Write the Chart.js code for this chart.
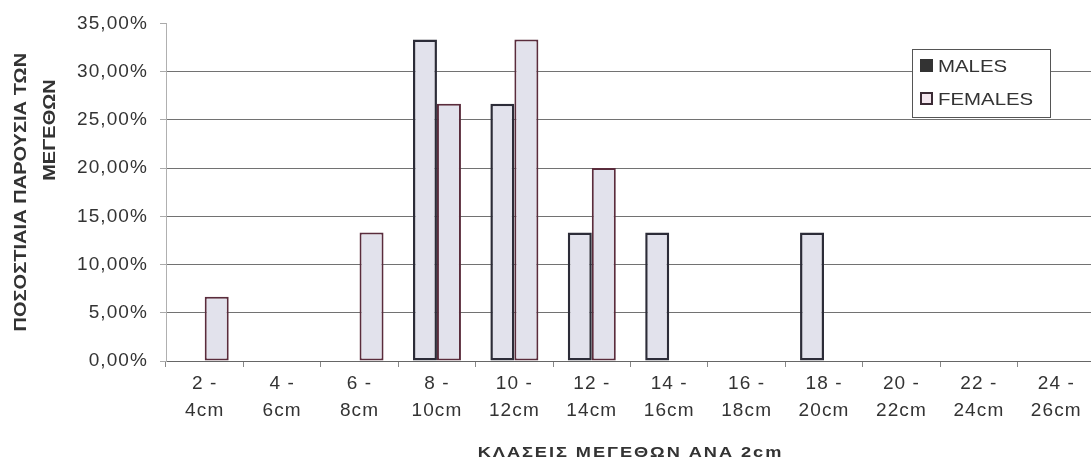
<!DOCTYPE html>
<html>
<head>
<meta charset="utf-8">
<script src="https://cdn.jsdelivr.net/npm/chart.js@4"></script>
<style>
  html, body { margin: 0; padding: 0; overflow: hidden; background: #fff; }
  canvas { display: block; }
</style>
</head>
<body>
<canvas id="c" width="1100" height="465"></canvas>
<script>
// Size classes (2 cm steps), shown on two lines each
const categories = [
  ['2 -', '4cm'], ['4 -', '6cm'], ['6 -', '8cm'], ['8 -', '10cm'],
  ['10 -', '12cm'], ['12 -', '14cm'], ['14 -', '16cm'], ['16 -', '18cm'],
  ['18 -', '20cm'], ['20 -', '22cm'], ['22 -', '24cm'], ['24 -', '26cm']
];

// Percentage of individuals in each size class
const males   = [null, null, null, 33.33, 26.67, 13.33, 13.33, null, 13.33, null, null, null];
const females = [6.67, null, 13.33, 26.67, 33.33, 20.00, null, null, null, null, null, null];

const seriesNames = ['MALES', 'FEMALES'];
const yTicks = [0, 5, 10, 15, 20, 25, 30, 35];

const yTitle = ['ΠΟΣΟΣΤΙΑΙΑ ΠΑΡΟΥΣΙΑ ΤΩΝ', 'ΜΕΓΕΘΩΝ'];
const xTitle = 'ΚΛΑΣΕΙΣ ΜΕΓΕΘΩΝ ΑΝΑ 2cm';

const FONT = '"Liberation Sans", Arial, sans-serif';
const TEXT = '#333333';
const BAR_FILL = '#e2e2ec';
const MALE_EDGE = '#2c2c38';
const FEMALE_EDGE = '#5a2c3c';

function pct(v) {
  return v.toFixed(2).replace('.', ',') + '%';
}

// Text drawn wider than the font's natural width
function wideText(ctx, text, x, y, sx) {
  ctx.save();
  ctx.translate(x, y);
  ctx.scale(sx, 1);
  ctx.fillText(text, 0, 0);
  ctx.restore();
}

// Slightly looser letter spacing for the scale labels
const spacingPlugin = {
  id: 'spacing',
  beforeDraw(chart) {
    chart.ctx.letterSpacing = '1.1px';
  }
};

// Axis titles and the boxed legend in the upper right corner
const decorPlugin = {
  id: 'decor',
  afterDraw(chart) {
    const ctx = chart.ctx;
    const area = chart.chartArea;
    ctx.save();
    ctx.letterSpacing = '0px';

    // y axis title, rotated, two lines
    ctx.fillStyle = TEXT;
    ctx.font = 'bold 17px ' + FONT;
    ctx.textAlign = 'center';
    ctx.textBaseline = 'middle';
    const lines = [{ x: 21, y: (area.top + area.bottom) / 2 }, { x: 50, y: 130 }];
    yTitle.forEach((t, i) => {
      ctx.save();
      ctx.translate(lines[i].x, lines[i].y);
      ctx.rotate(-Math.PI / 2);
      wideText(ctx, t, 0, 0, 1.18);
      ctx.restore();
    });

    // x axis title
    ctx.font = 'bold 14px ' + FONT;
    ctx.letterSpacing = '1.5px';
    wideText(ctx, xTitle, (area.left + area.right) / 2, 453, 1.3);
    ctx.letterSpacing = '0px';

    // legend box
    const bx = 912, by = 49, bw = 138, bh = 68;
    ctx.fillStyle = '#ffffff';
    ctx.fillRect(bx, by, bw, bh);
    ctx.strokeStyle = '#555555';
    ctx.lineWidth = 1;
    ctx.strokeRect(bx + 0.5, by + 0.5, bw, bh);
    ctx.font = '17px ' + FONT;
    ctx.textBaseline = 'alphabetic';
    ctx.textAlign = 'left';
    const rows = [66, 99];
    chart.data.datasets.forEach((ds, i) => {
      const y = rows[i];
      if (i === 0) {
        ctx.fillStyle = '#333333';
        ctx.fillRect(920, y - 7, 13, 13);
      } else {
        ctx.fillStyle = '#f3e6ee';
        ctx.fillRect(920, y - 7, 13, 13);
        ctx.strokeStyle = '#3a2a34';
        ctx.lineWidth = 2;
        ctx.strokeRect(921, y - 6, 11, 11);
      }
      ctx.fillStyle = TEXT;
      wideText(ctx, ds.label, 938, y + 6, 1.2);
    });
    ctx.restore();
  }
};

new Chart(document.getElementById('c'), {
  type: 'bar',
  data: {
    labels: categories,
    datasets: [
      {
        label: seriesNames[0],
        data: males,
        backgroundColor: BAR_FILL,
        borderColor: MALE_EDGE,
        borderWidth: 2.5,
        borderSkipped: false
      },
      {
        label: seriesNames[1],
        data: females,
        backgroundColor: BAR_FILL,
        borderColor: FEMALE_EDGE,
        borderWidth: 2,
        borderSkipped: false
      }
    ]
  },
  options: {
    responsive: false,
    animation: false,
    devicePixelRatio: 1,
    layout: { padding: { top: 22, right: 5, left: 0, bottom: 0 } },
    datasets: { bar: { categoryPercentage: 0.62, barPercentage: 1.0 } },
    plugins: {
      legend: { display: false },
      tooltip: { enabled: false }
    },
    scales: {
      x: {
        offset: true,
        afterFit(s) { s.height = 104; },
        grid: {
          offset: true,
          drawOnChartArea: false,
          drawTicks: true,
          tickLength: 6,
          color: '#888888'
        },
        border: { display: true, color: '#666666', width: 1 },
        ticks: {
          color: TEXT,
          font: { family: FONT, size: 19, lineHeight: 1.42 },
          padding: 3,
          maxRotation: 0,
          autoSkip: false
        }
      },
      y: {
        min: 0,
        max: 35,
        afterFit(s) { s.width = 166; },
        afterBuildTicks(s) { s.ticks = yTicks.map(v => ({ value: v })); },
        grid: {
          color: c => (c.tick && c.tick.value === 35 ? 'rgba(0,0,0,0)' : '#727272'),
          tickColor: '#aaaaaa',
          tickLength: 6,
          lineWidth: 1
        },
        border: { display: true, color: '#b0b0b0', width: 1 },
        ticks: {
          color: TEXT,
          font: { family: FONT, size: 19 },
          padding: 12,
          callback: v => pct(v)
        }
      }
    }
  },
  plugins: [spacingPlugin, decorPlugin]
});
</script>
</body>
</html>
